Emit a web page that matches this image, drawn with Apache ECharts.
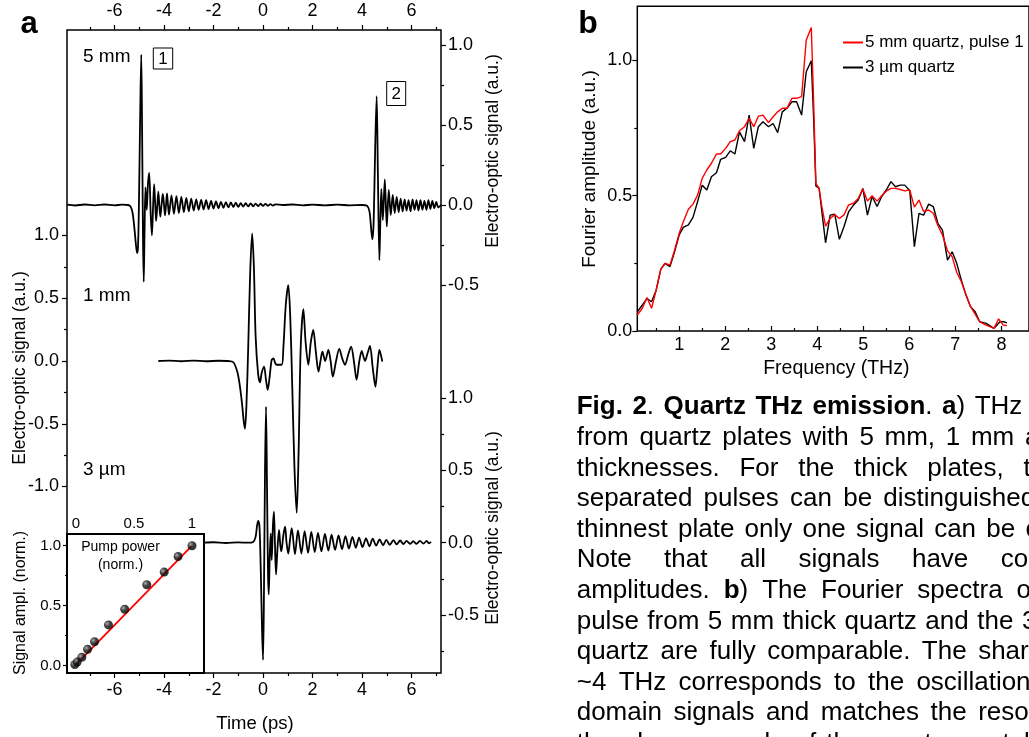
<!DOCTYPE html>
<html>
<head>
<meta charset="utf-8">
<title>Quartz THz emission</title>
<script src="https://cdn.jsdelivr.net/npm/echarts@6.0.0/dist/echarts.min.js"></script>
<style>
html,body{margin:0;padding:0;background:#fff;overflow:hidden}
#chart{width:1029px;height:737px}
</style>
</head>
<body>
<div id="chart"></div>
<script>
// ================= DATA =================
const timeMajorTicks = [-6, -4, -2, 0, 2, 4, 6];
const timeMinorTicks = [-7, -5, -3, -1, 1, 3, 5, 7];
const eoTicks5mm = [-0.5, 0, 0.5, 1];
const eoMinor5mm = [-0.25, 0.25, 0.75];
const eoTicks1mm = [-1, -0.5, 0, 0.5, 1];
const eoMinor1mm = [-0.75, -0.25, 0.25, 0.75];
const eoTicks3um = [-0.5, 0, 0.5, 1];
const eoMinor3um = [-0.75, -0.25, 0.25, 0.75];
const pumpTicks = [0, 0.5, 1];
const pumpMinor = [0.25, 0.75];
const amplTicks = [0, 0.5, 1];
const amplMinor = [0.25, 0.75];
const freqTicks = [1, 2, 3, 4, 5, 6, 7, 8];
const freqMinor = [0.5, 1.5, 2.5, 3.5, 4.5, 5.5, 6.5, 7.5];
const fourierTicks = [0, 0.5, 1];
const fourierMinor = [0.25, 0.75];

// 5 mm plate: time (ps), electro-optic signal (a.u.)
const fiveMmPoints = [
 [-7.92,0.002],[-7.6,-0.003],[-7.2,0.003],[-6.8,-0.002],[-6.4,0.003],[-6.0,-0.002],[-5.7,0.002],[-5.45,0.0],
 [-5.35,-0.01],[-5.27,-0.05],[-5.2,-0.14],[-5.14,-0.24],[-5.09,-0.30],[-5.05,-0.26],[-5.01,0.05],[-4.96,0.6],[-4.92,0.94],[-4.89,0.55],[-4.85,-0.2],[-4.82,-0.48],[-4.79,-0.2],[-4.75,0.11],[-4.7,-0.03],[-4.65,0.13],[-4.6,0.2],[-4.54,-0.05],[-4.49,-0.19],[-4.44,0.0],[-4.4,0.13],[-4.36,0.02],[-4.32,-0.1],[-4.27,0.0],[-4.23,0.083],[-4.19,0.0],[-4.15,-0.073],[-4.1,0.0],[-4.05,0.069],[-4.0,0.0],[-3.96,-0.065],[-3.92,0.0],[-3.88,0.073],[-3.84,0.0],[-3.8,-0.06],
 [-3.7,0.06],[-3.6,-0.055],[-3.5,0.055],[-3.4,-0.05],[-3.3,0.05],[-3.2,-0.045],[-3.1,0.045],[-3.0,-0.04],[-2.9,0.04],[-2.8,-0.035],[-2.7,0.035],[-2.6,-0.03],[-2.5,0.032],[-2.4,-0.028],[-2.3,0.03],[-2.2,-0.025],[-2.1,0.025],[-2.0,-0.022],[-1.9,0.022],[-1.8,-0.02],[-1.7,0.02],[-1.6,-0.018],[-1.5,0.018],[-1.4,-0.015],[-1.3,0.016],[-1.2,-0.013],[-1.1,0.014],[-1.0,-0.012],[-0.9,0.012],[-0.8,-0.01],[-0.7,0.011],[-0.6,-0.009],[-0.5,0.01],[-0.4,-0.008],[-0.3,0.009],[-0.2,-0.007],[-0.1,0.008],[0.0,-0.006],[0.1,0.007],[0.2,-0.005],[0.3,0.006],[0.4,-0.004],[0.5,0.004],
 [0.8,0.0],[1.2,0.003],[1.6,-0.002],[2.0,0.002],[2.5,-0.002],[3.0,0.002],[3.5,-0.002],[4.0,0.0],[4.2,-0.005],
 [4.3,-0.04],[4.38,-0.17],[4.42,-0.215],[4.47,-0.1],[4.53,0.35],[4.59,0.68],[4.64,0.2],[4.7,-0.345],[4.74,-0.1],[4.78,0.1],[4.84,-0.094],[4.92,0.16],[5.0,-0.135],[5.08,0.094],[5.16,-0.0625],[5.24,0.0625],[5.32,-0.05],[5.4,0.05],[5.48,-0.045],[5.56,0.04],[5.64,-0.04],[5.72,0.035],[5.8,-0.035],[5.88,0.03],[5.96,-0.04],[6.04,0.035],[6.12,-0.03],[6.2,0.03],[6.28,-0.035],[6.36,0.03],[6.44,-0.03],[6.52,0.025],[6.6,-0.03],[6.68,0.03],[6.76,-0.025],[6.84,0.025],[6.92,-0.02],[7.0,0.02],[7.08,-0.015],[7.19,0.0]
];

// 1 mm plate
const oneMmPoints = [
 [-4.23,0.0],[-3.8,0.003],[-3.3,-0.002],[-2.8,0.003],[-2.3,-0.002],[-1.8,0.002],[-1.4,0.0],[-1.2,-0.01],[-1.04,-0.085],[-0.95,-0.18],[-0.86,-0.32],[-0.78,-0.48],[-0.73,-0.54],[-0.67,-0.35],[-0.6,0.1],[-0.52,0.7],[-0.44,1.017],[-0.37,0.75],[-0.3,0.2],[-0.2,-0.1],[-0.12,-0.17],[-0.06,-0.1],[0.04,-0.045],[0.12,-0.15],[0.19,-0.23],[0.27,-0.12],[0.35,0.01],[0.42,0.02],[0.5,-0.02],[0.55,-0.03],[0.75,-0.03],[0.82,0.1],[0.92,0.45],[1.02,0.605],[1.1,0.35],[1.18,-0.2],[1.27,-0.85],[1.36,-1.21],[1.44,-0.7],[1.52,0.1],[1.63,0.414],[1.72,0.15],[1.83,-0.03],[1.93,0.15],[2.03,0.247],[2.13,0.08],[2.24,-0.085],[2.32,0.0],[2.4,0.074],[2.51,0.0],[2.64,0.088],[2.73,0.0],[2.82,-0.125],[2.95,0.0],[3.08,0.096],[3.2,0.02],[3.31,-0.03],[3.44,0.05],[3.56,0.114],[3.67,0.0],[3.78,-0.15],[3.89,0.0],[3.99,0.08],[4.05,0.04],[4.12,0.0],[4.22,0.06],[4.32,0.12],[4.43,-0.05],[4.54,-0.205],[4.62,-0.05],[4.7,0.088],[4.76,0.05],[4.82,-0.005]
];

// 3 um plate
const threeUmPoints = [
 [-2.37,0.0],[-2.0,0.003],[-1.5,-0.002],[-1.0,0.002],[-0.6,0.0],[-0.4,0.005],[-0.3,0.04],[-0.24,0.12],[-0.19,0.15],[-0.14,0.1],[-0.09,-0.2],[-0.04,-0.6],[0.0,-0.81],[0.04,-0.3],[0.08,0.5],[0.12,0.94],[0.16,0.4],[0.2,-0.2],[0.23,-0.357],[0.27,-0.1],[0.31,0.065],[0.35,-0.12],[0.4,0.12],[0.44,0.214],[0.48,0.0],[0.525,-0.22],[0.58,-0.05],[0.646,0.088],[0.7,-0.02],[0.74,-0.06],[0.82,0.05],[0.89,0.11],[0.95,0.0],[1.02,-0.075],[1.09,0.02],
 [1.16,0.10],[1.29,-0.08],[1.41,0.085],[1.55,-0.075],[1.68,0.08],[1.82,-0.07],[1.95,0.075],[2.09,-0.065],[2.22,0.068],[2.36,-0.06],[2.5,0.06],[2.64,-0.055],[2.77,0.055],[2.91,-0.05],[3.05,0.05],[3.19,-0.045],[3.33,0.045],[3.47,-0.04],[3.61,0.04],[3.75,-0.035],[3.88,0.035],[4.02,-0.03],[4.16,0.03],[4.3,-0.025],[4.43,0.028],[4.57,-0.02],[4.71,0.022],[4.85,-0.018],[4.98,0.02],[5.12,-0.015],[5.27,0.018],[5.4,-0.012],[5.54,0.015],[5.67,-0.01],[5.8,0.012],[5.94,-0.008],[6.07,0.01],[6.2,-0.008],[6.34,0.012],[6.48,-0.006],[6.61,0.012],[6.7,-0.004],[6.79,0.006]
];

// inset: signal amplitude vs pump power
const pumpPower  = [-0.01, 0.01, 0.05, 0.10, 0.16, 0.28, 0.42, 0.61, 0.76, 0.88, 1.00];
const signalAmpl = [ 0.01, 0.03, 0.07, 0.137, 0.20, 0.34, 0.47, 0.675, 0.78, 0.91, 1.00];
const fitPump   = [0.0, 1.0];
const fitSignal = [0.01, 1.0];

// panel b: Fourier spectra [THz, amplitude]
const spectrum5mm = [
 [0.09,0.059],[0.2,0.084],[0.3,0.124],[0.4,0.084],[0.5,0.151],[0.6,0.228],[0.69,0.25],[0.8,0.244],[0.89,0.293],[1.0,0.361],[1.09,0.404],[1.2,0.45],[1.3,0.469],[1.4,0.502],[1.5,0.564],[1.6,0.595],[1.7,0.62],[1.81,0.654],[1.9,0.654],[2.01,0.675],[2.11,0.70],[2.21,0.706],[2.31,0.74],[2.42,0.755],[2.52,0.786],[2.62,0.755],[2.72,0.794],[2.82,0.798],[2.94,0.77],[3.04,0.792],[3.14,0.81],[3.24,0.823],[3.34,0.823],[3.45,0.86],[3.55,0.86],[3.66,0.866],[3.76,1.075],[3.87,1.122],[3.92,0.853],[3.97,0.546],[4.04,0.527],[4.1,0.46],[4.18,0.388],[4.28,0.416],[4.38,0.43],[4.48,0.416],[4.58,0.429],[4.68,0.466],[4.79,0.472],[4.89,0.49],[4.99,0.525],[5.09,0.48],[5.19,0.5],[5.3,0.48],[5.4,0.5],[5.5,0.517],[5.6,0.527],[5.7,0.527],[5.8,0.523],[5.9,0.518],[6.01,0.521],[6.11,0.458],[6.21,0.484],[6.31,0.442],[6.42,0.447],[6.52,0.435],[6.62,0.39],[6.72,0.355],[6.83,0.296],[6.93,0.275],[7.03,0.217],[7.13,0.182],[7.23,0.135],[7.33,0.09],[7.43,0.062],[7.53,0.034],[7.67,0.022],[7.84,0.01],[7.94,0.045],[8.04,0.022],[8.12,0.02]
];
const spectrum3um = [
 [0.09,0.071],[0.2,0.096],[0.3,0.12],[0.4,0.108],[0.5,0.151],[0.6,0.228],[0.69,0.25],[0.8,0.238],[0.89,0.287],[1.0,0.355],[1.09,0.383],[1.2,0.392],[1.3,0.42],[1.4,0.478],[1.5,0.539],[1.6,0.521],[1.7,0.57],[1.81,0.585],[1.9,0.634],[2.01,0.642],[2.11,0.666],[2.21,0.654],[2.31,0.736],[2.42,0.70],[2.52,0.798],[2.62,0.675],[2.72,0.755],[2.82,0.773],[2.94,0.755],[3.04,0.767],[3.14,0.733],[3.24,0.81],[3.34,0.823],[3.45,0.847],[3.55,0.847],[3.66,0.798],[3.76,0.958],[3.87,0.999],[3.92,0.79],[3.97,0.536],[4.04,0.527],[4.18,0.326],[4.28,0.428],[4.38,0.432],[4.48,0.339],[4.58,0.385],[4.68,0.44],[4.79,0.466],[4.89,0.484],[4.99,0.527],[5.09,0.428],[5.19,0.497],[5.3,0.46],[5.4,0.497],[5.5,0.521],[5.6,0.552],[5.7,0.533],[5.8,0.539],[5.9,0.539],[6.01,0.518],[6.11,0.312],[6.21,0.435],[6.31,0.428],[6.42,0.469],[6.52,0.46],[6.62,0.398],[6.72,0.373],[6.83,0.262],[6.93,0.293],[7.03,0.25],[7.13,0.188],[7.23,0.133],[7.33,0.09],[7.43,0.071],[7.53,0.034],[7.67,0.028],[7.84,0.01],[7.97,0.034],[8.06,0.034],[8.12,0.03]
];
const spectrumNames = ['5 mm quartz, pulse 1', '3 \u00b5m quartz'];

const traceLabels = ['5 mm', '1 mm', '3 \u00b5m'];
const pulseLabels = ['1', '2'];

const captionLines = [
 '*Fig.* *2*. *Quartz* *THz* *emission*. *a*) THz',
 'from quartz plates with 5 mm, 1 mm and',
 'thicknesses. For the thick plates, two',
 'separated pulses can be distinguished',
 'thinnest plate only one signal can be observed.',
 'Note that all signals have comparable',
 'amplitudes. *b*) The Fourier spectra of',
 'pulse from 5 mm thick quartz and the 3 \u00b5m',
 'quartz are fully comparable. The sharp',
 '~4 THz corresponds to the oscillation',
 'domain signals and matches the resonance',
 'the phonon mode of the quartz crystal.'
];

// ================= LAYOUT =================
const FONT = 'Liberation Sans';
const A = {left: 67, top: 30, width: 374, height: 643};         // panel a frame
const INSET = {left: 67, top: 534, width: 137, height: 139};
const B = {left: 637.3, top: 6.3, width: 418.7, height: 324.7};  // panel b frame
const captionLeft = 576.7, captionFirstY = 407.3, captionStep = 30.6;
const captionGaps = [9.5, 10.7, 19.7, 11.25, 10.2, 32.5, 14, 8.5, 11.5, 12.3, 11.5, 10];

const fmt1 = v => v.toFixed(1);
const fmtPump = v => (v === 0 ? '0' : v === 1 ? '1' : String(v));
const txt = {color: '#000', fontFamily: FONT};

function tick(vals, len, inside) {
  return {show: true, customValues: vals, length: len, inside: !!inside, lineStyle: {color: '#000', width: 1.2}};
}
function valueAxis(extra) {
  return Object.assign({
    type: 'value', scale: false,
    axisLine: {show: false, onZero: false}, splitLine: {show: false},
    axisLabel: {show: false}
  }, extra);
}

const xAxes = [
  // panel a bottom
  valueAxis({gridIndex: 0, position: 'bottom', min: -7.92, max: 7.19,
    axisTick: tick(timeMajorTicks, 5),
    axisLabel: Object.assign({show: true, customValues: timeMajorTicks, fontSize: 18, margin: 8, formatter: v => String(v)}, txt)}),
  valueAxis({gridIndex: 0, position: 'bottom', min: -7.92, max: 7.19, axisTick: tick(timeMinorTicks, 3)}),
  // panel a top
  valueAxis({gridIndex: 0, position: 'top', min: -7.92, max: 7.19,
    axisTick: tick(timeMajorTicks, 5),
    axisLabel: Object.assign({show: true, customValues: timeMajorTicks, fontSize: 18, margin: 10, formatter: v => String(v)}, txt)}),
  valueAxis({gridIndex: 0, position: 'top', min: -7.92, max: 7.19, axisTick: tick(timeMinorTicks, 3)}),
  // inset top
  valueAxis({gridIndex: 1, position: 'top', min: -0.0776, max: 1.1034,
    axisTick: tick(pumpTicks, 5, true),
    axisLabel: Object.assign({show: true, customValues: pumpTicks, fontSize: 15, margin: 3, formatter: fmtPump}, txt)}),
  valueAxis({gridIndex: 1, position: 'top', min: -0.0776, max: 1.1034, axisTick: tick(pumpMinor, 3, true)}),
  // panel b bottom
  valueAxis({gridIndex: 2, position: 'bottom', min: 0.09, max: 8.6,
    axisTick: tick(freqTicks, 5, true),
    axisLabel: Object.assign({show: true, customValues: freqTicks, fontSize: 18, margin: 5, formatter: v => String(v)}, txt)}),
  valueAxis({gridIndex: 2, position: 'bottom', min: 0.09, max: 8.6, axisTick: tick(freqMinor, 3, true)})
];

const yAxes = [
  // 5 mm (right)
  valueAxis({gridIndex: 0, position: 'right', min: -2.925, max: 1.09375,
    axisTick: tick(eoTicks5mm, 5),
    axisLabel: Object.assign({show: true, customValues: eoTicks5mm, fontSize: 18, margin: 7, formatter: fmt1}, txt)}),
  valueAxis({gridIndex: 0, position: 'right', min: -2.925, max: 1.09375, axisTick: tick(eoMinor5mm, 3)}),
  // 1 mm (left)
  valueAxis({gridIndex: 0, position: 'left', min: -2.486, max: 2.6375,
    axisTick: tick(eoTicks1mm, 5),
    axisLabel: Object.assign({show: true, customValues: eoTicks1mm, fontSize: 18, margin: 8, formatter: fmt1}, txt)}),
  valueAxis({gridIndex: 0, position: 'left', min: -2.486, max: 2.6375, axisTick: tick(eoMinor1mm, 3)}),
  // 3 um (right)
  valueAxis({gridIndex: 0, position: 'right', min: -0.9005, max: 3.543,
    axisTick: tick(eoTicks3um, 5),
    axisLabel: Object.assign({show: true, customValues: eoTicks3um, fontSize: 18, margin: 7, formatter: fmt1}, txt)}),
  valueAxis({gridIndex: 0, position: 'right', min: -0.9005, max: 3.543, axisTick: tick(eoMinor3um, 3)}),
  // inset (left)
  valueAxis({gridIndex: 1, position: 'left', min: -0.0608, max: 1.0975,
    axisTick: tick(amplTicks, 4),
    axisLabel: Object.assign({show: true, customValues: amplTicks, fontSize: 15, margin: 6, formatter: fmt1}, txt)}),
  valueAxis({gridIndex: 1, position: 'left', min: -0.0608, max: 1.0975, axisTick: tick(amplMinor, 2)}),
  // panel b (left)
  valueAxis({gridIndex: 2, position: 'left', min: 0, max: 1.2,
    axisTick: tick(fourierTicks, 5),
    axisLabel: Object.assign({show: true, customValues: fourierTicks, fontSize: 18, margin: 5, formatter: fmt1}, txt)}),
  valueAxis({gridIndex: 2, position: 'left', min: 0, max: 1.2, axisTick: tick(fourierMinor, 3)})
];

const lineBase = {type: 'line', symbol: 'none', smooth: 0.3, silent: true, animation: false};

const series = [
  Object.assign({}, lineBase, {name: traceLabels[0], xAxisIndex: 0, yAxisIndex: 0, data: fiveMmPoints, lineStyle: {color: '#000', width: 1.8}}),
  Object.assign({}, lineBase, {name: traceLabels[1], xAxisIndex: 0, yAxisIndex: 2, data: oneMmPoints, lineStyle: {color: '#000', width: 1.8}}),
  Object.assign({}, lineBase, {name: traceLabels[2], xAxisIndex: 0, yAxisIndex: 4, data: threeUmPoints, lineStyle: {color: '#000', width: 1.8}}),
  {type: 'line', name: 'fit', xAxisIndex: 4, yAxisIndex: 6, symbol: 'none', silent: true, z: 5,
   data: fitPump.map((p, i) => [p, fitSignal[i]]), lineStyle: {color: '#ff0000', width: 1.8}},
  {type: 'scatter', name: 'points', xAxisIndex: 4, yAxisIndex: 6, symbol: 'circle', symbolSize: 9, silent: true, z: 6,
   data: pumpPower.map((p, i) => [p, signalAmpl[i]]),
   itemStyle: {color: {type: 'radial', x: 0.35, y: 0.35, r: 0.7, colorStops: [{offset: 0, color: '#9a9a9a'}, {offset: 0.45, color: '#111'}, {offset: 1, color: '#000'}]}}},
  Object.assign({}, lineBase, {name: spectrumNames[0], smooth: false, xAxisIndex: 6, yAxisIndex: 8, data: spectrum5mm, lineStyle: {color: '#ff0000', width: 1.4}, itemStyle: {color: '#ff0000'}, z: 4}),
  Object.assign({}, lineBase, {name: spectrumNames[1], smooth: false, xAxisIndex: 6, yAxisIndex: 8, data: spectrum3um, lineStyle: {color: '#000', width: 1.4}, itemStyle: {color: '#000'}, z: 3})
];

// ---------- graphics (labels, caption) ----------
const graphics = [];
function addText(s, x, y, size, opts) {
  opts = opts || {};
  graphics.push({
    type: 'text', x: x, y: y, rotation: opts.rot || 0, z: 100, silent: true,
    style: {text: s, fill: '#000', font: (opts.bold ? 'bold ' : '') + size + 'px "' + FONT + '"',
      align: opts.align || 'center', verticalAlign: 'middle'}
  });
}
addText('a', 29, 24.6, 31, {bold: true});
addText('b', 588, 23.9, 32, {bold: true});
addText(traceLabels[0], 83, 56.7, 19, {align: 'left'});
addText(traceLabels[1], 83, 296, 19, {align: 'left'});
addText(traceLabels[2], 83, 469.3, 19, {align: 'left'});
// boxed pulse numbers
[[153.3, 48, 19.4, 21, pulseLabels[0]], [386.7, 81.5, 19, 24, pulseLabels[1]]].forEach(b => {
  graphics.push({type: 'rect', z: 100, silent: true, shape: {x: b[0], y: b[1], width: b[2], height: b[3]},
    style: {fill: 'none', stroke: '#000', lineWidth: 1}});
  addText(b[4], b[0] + b[2] / 2, b[1] + b[3] / 2 + 0.5, 17);
});
// axis titles
addText('Time (ps)', 255, 724, 18.5);
addText('Electro-optic signal (a.u.)', 20, 368, 17.5, {rot: Math.PI / 2});
addText('Electro-optic signal (a.u.)', 493, 151, 17.5, {rot: Math.PI / 2});
addText('Electro-optic signal (a.u.)', 493, 528, 17.5, {rot: Math.PI / 2});
addText('Signal ampl. (norm.)', 20.7, 603, 16, {rot: Math.PI / 2});
addText('Pump power', 120.5, 547.3, 14);
addText('(norm.)', 120.5, 565, 14);
addText('Fourier amplitude (a.u.)', 590, 169, 19, {rot: Math.PI / 2});
addText('Frequency (THz)', 836.3, 368.3, 19.5);

// caption, justified word by word
const mctx = document.createElement('canvas').getContext('2d');
function measure(s, bold) { mctx.font = (bold ? 'bold ' : '') + '26px "' + FONT + '"'; return mctx.measureText(s).width; }
captionLines.forEach((line, li) => {
  let x = captionLeft;
  const y = captionFirstY + li * captionStep;
  line.split(' ').forEach(word => {
    const parts = word.split('*');
    parts.forEach((p, pi) => {
      if (!p) return;
      const bold = pi % 2 === 1;
      graphics.push({type: 'text', x: x, y: y, z: 100, silent: true,
        style: {text: p, fill: '#000', font: (bold ? 'bold ' : '') + '26px "' + FONT + '"', align: 'left', verticalAlign: 'middle'}});
      x += measure(p, bold);
    });
    x += captionGaps[li];
  });
});

const chart = echarts.init(document.getElementById('chart'), null, {renderer: 'canvas', width: 1029, height: 737});
chart.setOption({
  animation: false,
  backgroundColor: '#fff',
  textStyle: {fontFamily: FONT},
  grid: [
    Object.assign({show: true, borderColor: '#000', borderWidth: 1.5, backgroundColor: 'transparent', containLabel: false}, A),
    Object.assign({show: true, borderColor: '#000', borderWidth: 2, backgroundColor: '#fff', containLabel: false, z: 3}, INSET),
    Object.assign({show: true, borderColor: '#000', borderWidth: 1.5, backgroundColor: 'transparent', containLabel: false}, B)
  ],
  legend: {
    data: spectrumNames, orient: 'vertical', left: 843, top: 34, itemWidth: 20, itemHeight: 2, itemGap: 8,
    icon: 'rect', padding: 0, selectedMode: false,
    textStyle: {fontSize: 17, color: '#000', fontFamily: FONT, padding: [0, 0, 0, -3]}
  },
  xAxis: xAxes,
  yAxis: yAxes,
  series: series,
  graphic: {elements: graphics}
});
</script>
</body>
</html>
